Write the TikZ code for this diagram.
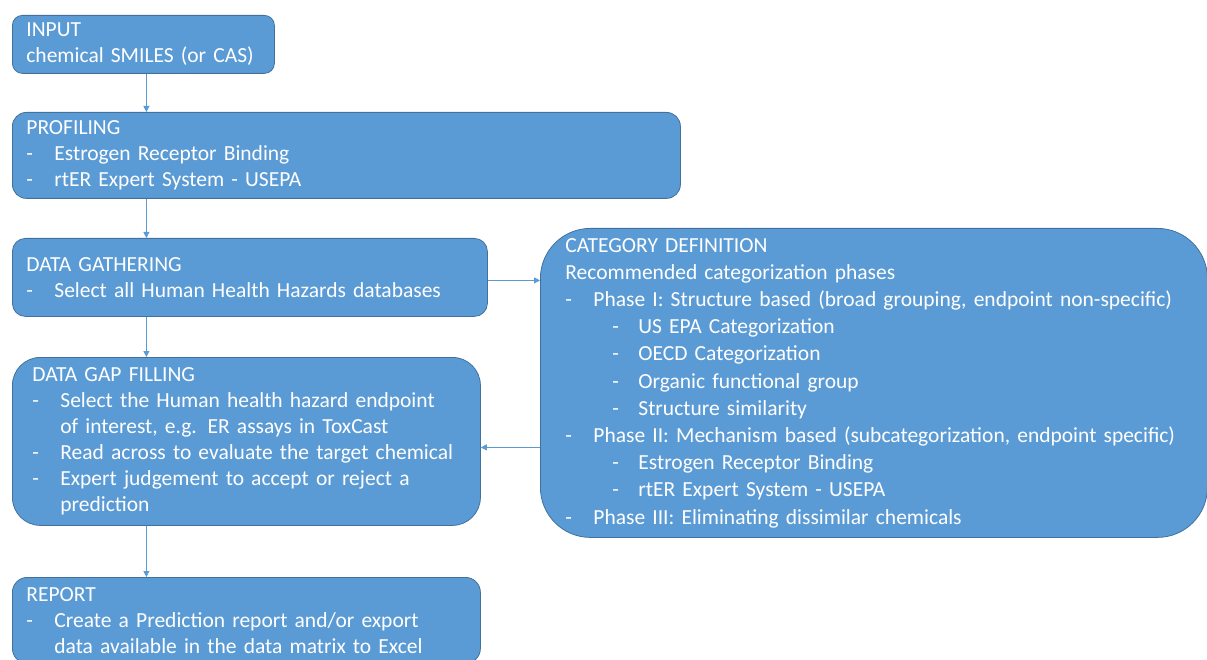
\documentclass[tikz,border=0pt]{standalone}
\usepackage{fontspec}
\setmainfont{Carlito}
\usetikzlibrary{arrows.meta}

\definecolor{boxblue}{HTML}{5B9BD5}
\definecolor{boxedge}{HTML}{41719C}

\newcommand{\itm}{\makebox[28pt][l]{-}}
\newcommand{\subitm}{\hspace*{47pt}\makebox[26pt][l]{-}}
\newcommand{\cont}{\hspace*{28pt}}

\begin{document}
\begin{tikzpicture}[x=1pt, y=-1pt,
  box/.style={draw=boxedge, fill=boxblue, text=white, line width=0.8pt,
    anchor=north west, align=left, inner xsep=14pt, inner ysep=0pt,
    font=\fontsize{21.5}{26}\selectfont},
  link/.style={draw=boxblue, line width=0.9pt, -{Triangle[length=6pt,width=6pt]}}]
\useasboundingbox (0,0) rectangle (1207,660);
\clip (0,0) rectangle (1207,660);

% Left column
\node[box, rounded corners=10pt, minimum height=58pt, text width=234pt] (input) at (12,15)
  {INPUT\\chemical SMILES (or CAS)};
\node[box, rounded corners=14pt, minimum height=86pt, text width=640pt] (profiling) at (12,112)
  {PROFILING\\
   \itm Estrogen Receptor Binding\\
   \itm rtER Expert System - USEPA};
\node[box, rounded corners=13pt, minimum height=78pt, text width=447pt] (gathering) at (12,238)
  {DATA GATHERING\\
   \itm Select all Human Health Hazards databases};
\node[box, rounded corners=28pt, inner xsep=20pt, minimum height=168pt, text width=428pt] (gapfill) at (12,357)
  {DATA GAP FILLING\\
   \itm Select the Human health hazard endpoint\\
   \cont of interest, e.g. ER assays in ToxCast\\
   \itm Read across to evaluate the target chemical\\
   \itm Expert judgement to accept or reject a\\
   \cont prediction};
\node[box, rounded corners=15pt, minimum height=86pt, text width=440pt] (report) at (12,577)
  {REPORT\\
   \itm Create a Prediction report and/or export\\
   \cont data available in the data matrix to Excel};

% Category box
\node[box, rounded corners=50pt, inner xsep=25pt, minimum height=309pt, text width=617pt,
  font=\fontsize{21.5}{27.2}\selectfont] (category) at (540,228)
  {CATEGORY DEFINITION\\
   Recommended categorization phases\\
   \itm Phase I: Structure based (broad grouping, endpoint non-specific)\\
   \subitm US EPA Categorization\\
   \subitm OECD Categorization\\
   \subitm Organic functional group\\
   \subitm Structure similarity\\
   \itm Phase II: Mechanism based (subcategorization, endpoint specific)\\
   \subitm Estrogen Receptor Binding\\
   \subitm rtER Expert System - USEPA\\
   \itm Phase III: Eliminating dissimilar chemicals};

% Arrows
\draw[link] ([xshift=3pt]input.south) -- ([xshift=3pt]input.south |- profiling.north);
\draw[link] ([xshift=3pt]input.south |- profiling.south) -- ([xshift=3pt]input.south |- gathering.north);
\draw[link] ([xshift=3pt]input.south |- gathering.south) -- ([xshift=3pt]input.south |- gapfill.north);
\draw[link] ([xshift=3pt]input.south |- gapfill.south) -- ([xshift=3pt]input.south |- report.north);
\draw[link] ([yshift=-3pt]gathering.east) -- ([yshift=-3pt]gathering.east -| category.west);
\draw[link] ([yshift=-6pt]gapfill.east -| category.west) -- ([yshift=-6pt]gapfill.east);
\end{tikzpicture}
\end{document}
